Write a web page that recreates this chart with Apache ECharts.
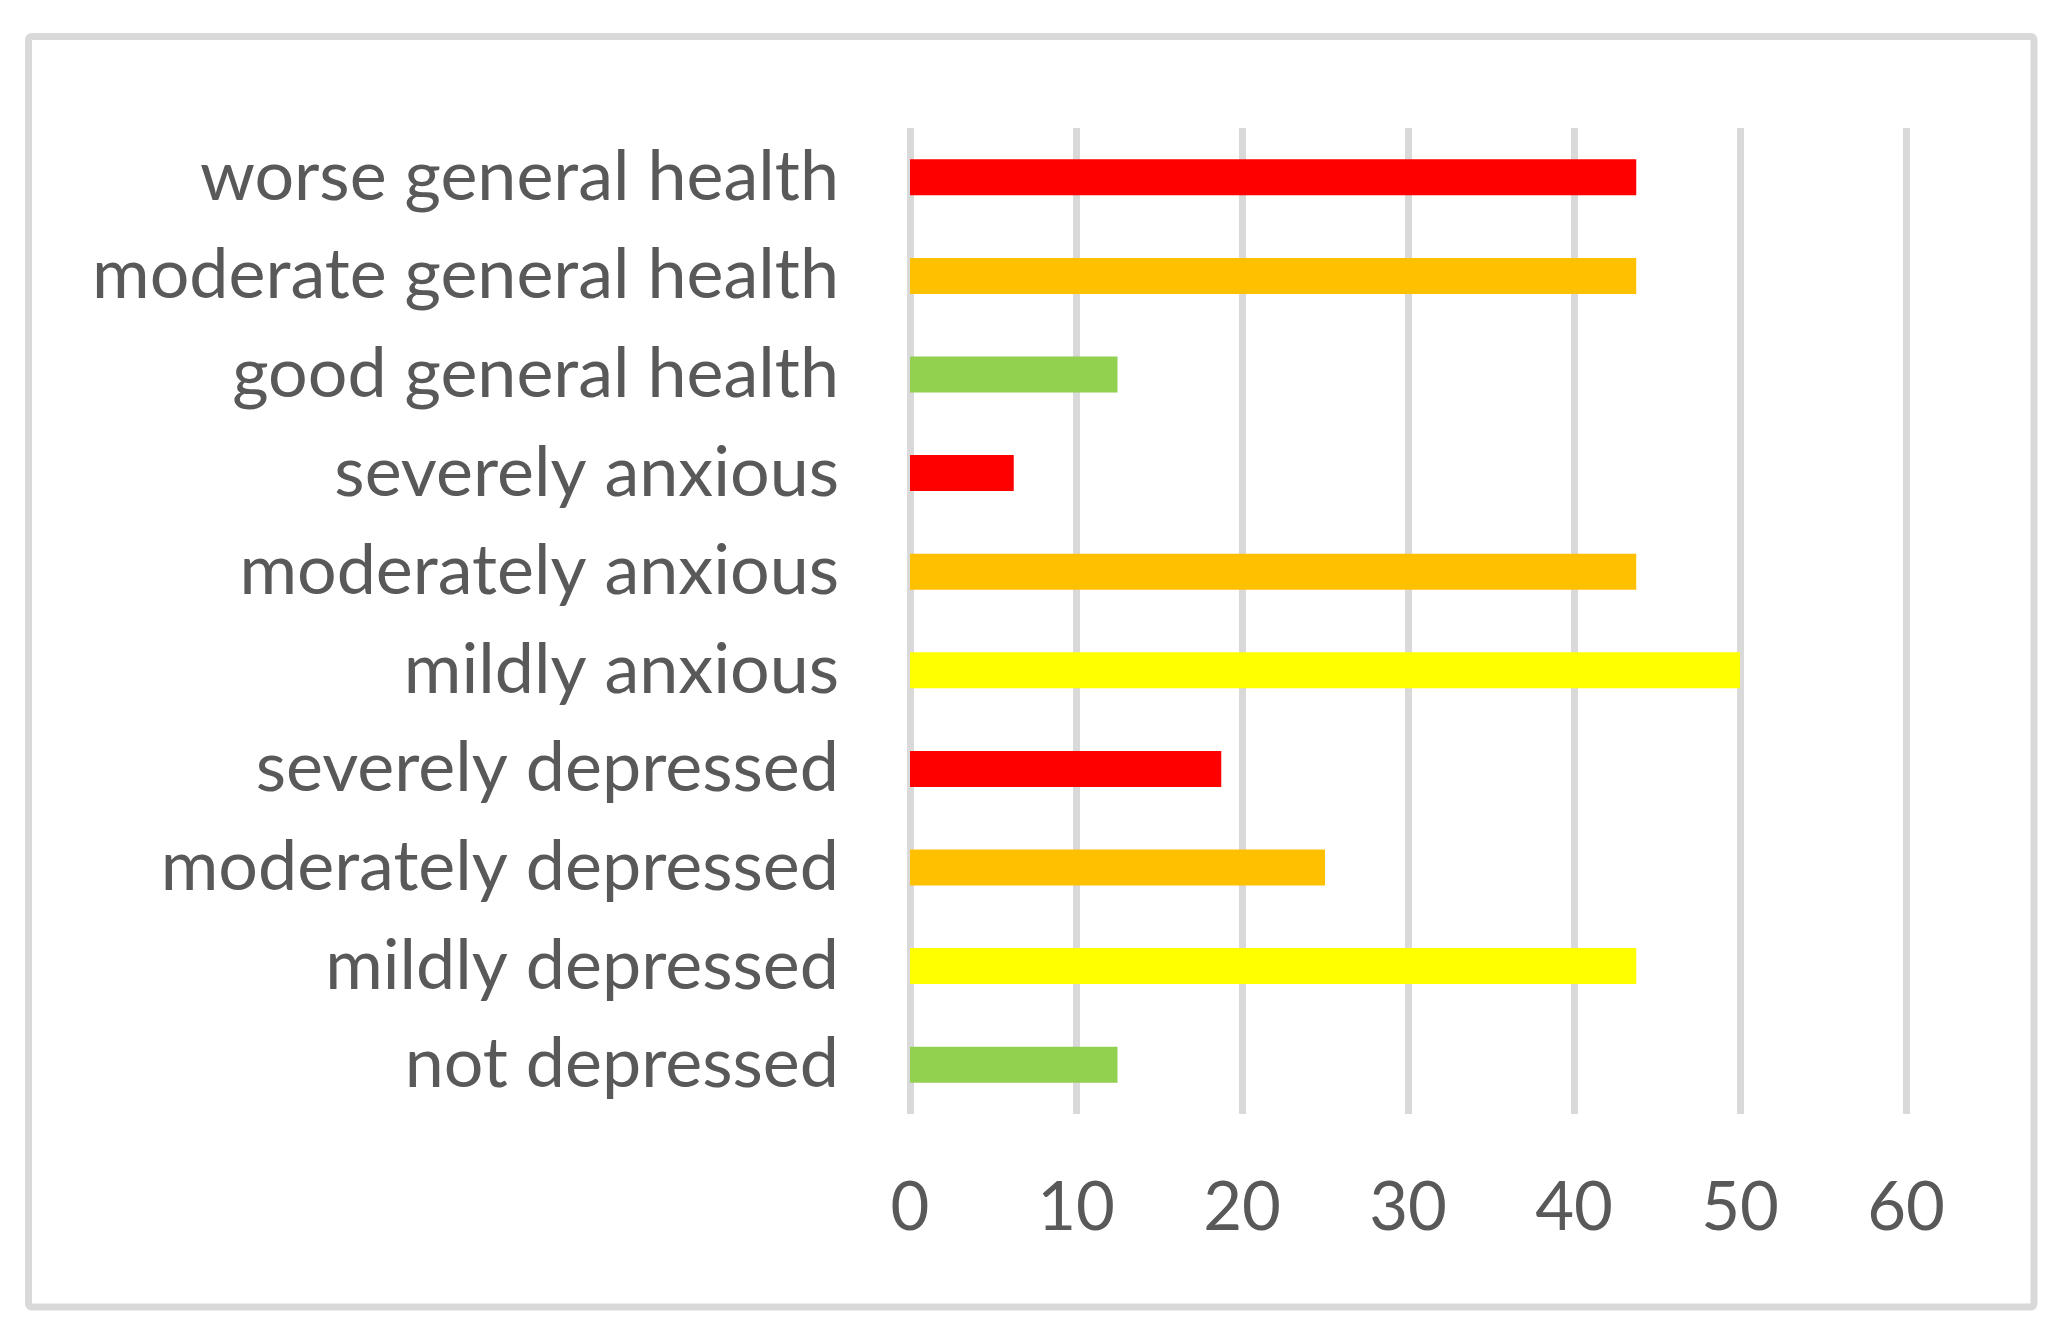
<!DOCTYPE html>
<html>
<head>
<meta charset="utf-8">
<script src="https://cdn.jsdelivr.net/npm/echarts@6/dist/echarts.min.js"></script>
<style>
html,body{margin:0;padding:0;background:#fff;}
#c{width:2058px;height:1326px;}
</style>
</head>
<body>
<div id="c"></div>
<script>
const categories = [
  "not depressed",
  "mildly depressed",
  "moderately depressed",
  "severely depressed",
  "mildly anxious",
  "moderately anxious",
  "severely anxious",
  "good general health",
  "moderate general health",
  "worse general health"
];
const values = [12.5, 43.75, 25, 18.75, 50, 43.75, 6.25, 12.5, 43.75, 43.75];
const barColors = ["#92D050", "#FFFF00", "#FFC000", "#FF0000", "#FFFF00", "#FFC000", "#FF0000", "#92D050", "#FFC000", "#FF0000"];
const xTicks = [0, 10, 20, 30, 40, 50, 60];

const chart = echarts.init(document.getElementById('c'));
const font = "Lato";
chart.setOption({
  animation: false,
  backgroundColor: '#fff',
  graphic: [{
    type: 'rect',
    shape: {x: 28.5, y: 36.5, width: 2005.5, height: 1270.5, r: 3},
    style: {fill: 'none', stroke: '#D9D9D9', lineWidth: 7},
    silent: true,
    z: -1
  }],
  grid: {left: 910, right: 152, top: 128, bottom: 212, containLabel: false},
  xAxis: {
    type: 'value',
    min: xTicks[0],
    max: xTicks[xTicks.length - 1],
    interval: 10,
    axisLine: {show: false},
    axisTick: {show: false},
    splitLine: {show: true, lineStyle: {color: '#D9D9D9', width: 7}},
    axisLabel: {
      color: '#595959',
      fontFamily: font,
      fontSize: 67,
      margin: 61,
      formatter: function (v) { return xTicks.indexOf(v) >= 0 ? String(v) : ''; }
    }
  },
  yAxis: {
    type: 'category',
    data: categories,
    axisLine: {show: false},
    axisTick: {show: false},
    splitLine: {show: false},
    axisLabel: {
      color: '#595959',
      fontFamily: font,
      fontSize: 70,
      margin: 71
    }
  },
  series: [{
    type: 'bar',
    barWidth: 36,
    data: values.map((v, i) => ({value: v, itemStyle: {color: barColors[i]}}))
  }]
});
</script>
</body>
</html>
